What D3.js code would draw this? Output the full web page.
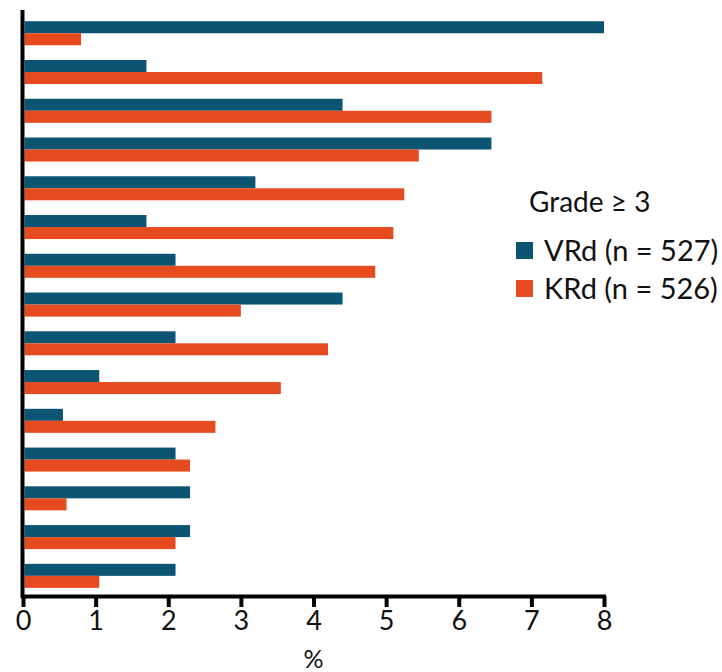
<!DOCTYPE html>
<html>
<head>
<meta charset="utf-8">
<script src="https://cdn.jsdelivr.net/npm/d3@7"></script>
<style>
  html, body { margin: 0; padding: 0; background: #fff; }
  svg { display: block; }
  text { font-family: Lato, "Open Sans", sans-serif; fill: #111; }
</style>
</head>
<body>
<svg id="chart" width="722" height="672"></svg>
<script>
// ---- data ----
const categories = ["c1","c2","c3","c4","c5","c6","c7","c8","c9","c10","c11","c12","c13","c14","c15"];
const seriesNames = ["VRd (n = 527)", "KRd (n = 526)"];
const vrdValues = [8.0, 1.7, 4.4, 6.45, 3.2, 1.7, 2.1, 4.4, 2.1, 1.05, 0.55, 2.1, 2.3, 2.3, 2.1];
const krdValues = [0.8, 7.15, 6.45, 5.45, 5.25, 5.1, 4.85, 3.0, 4.2, 3.55, 2.65, 2.3, 0.6, 2.1, 1.05];
const xTicks = [0, 1, 2, 3, 4, 5, 6, 7, 8];
const legendTitle = "Grade \u2265 3";
const axisTitle = "%";
const colors = ["#0b5573", "#e54b1e"];

// ---- layout ----
const svg = d3.select("#chart");
const x0 = 23, x1 = 604, yTop = 10, yBottom = 596;

const x = d3.scaleLinear().domain([0, 8]).range([x0, x1]);
const y = d3.scaleBand().domain(categories).range([yTop, yBottom])
  .paddingInner(0.38).paddingOuter(0.25).align(0.58);
const sub = d3.scaleBand().domain([0, 1]).range([0, y.bandwidth()]);

const data = categories.map((c, i) => ({ c, vals: [vrdValues[i], krdValues[i]] }));

const g = svg.append("g");
const groups = g.selectAll("g.grp").data(data).join("g")
  .attr("class", "grp")
  .attr("transform", d => `translate(0,${y(d.c)})`);
groups.selectAll("rect").data(d => d.vals).join("rect")
  .attr("x", x(0) + 1.5)
  .attr("y", (v, j) => sub(j))
  .attr("height", sub.bandwidth())
  .attr("width", v => x(v) - x(0) - 1.5)
  .attr("fill", (v, j) => colors[j]);

// x axis
const xAxis = svg.append("g")
  .attr("transform", `translate(0,${yBottom})`)
  .call(d3.axisBottom(x).tickValues(xTicks).tickFormat(d3.format("d")).tickSize(11).tickSizeOuter(0));
xAxis.select(".domain").attr("stroke", "#000").attr("stroke-width", 4)
  .attr("d", `M${x0 - 2},0.5H${x1 + 2}`);
xAxis.selectAll(".tick line").attr("stroke", "#000").attr("stroke-width", 4);
xAxis.selectAll(".tick text")
  .attr("y", 15).attr("dy", "0.71em")
  .style("font-size", "27px").style("font-family", "Lato, sans-serif").attr("fill", "#111");

// y axis line
svg.append("line")
  .attr("x1", x0 - 0.5).attr("x2", x0 - 0.5)
  .attr("y1", yTop).attr("y2", yBottom + 2)
  .attr("stroke", "#000").attr("stroke-width", 4);

// axis title
svg.append("text")
  .attr("x", (x0 + x1) / 2).attr("y", 668)
  .attr("text-anchor", "middle")
  .style("font-size", "25px")
  .text(axisTitle);

// legend
const lg = svg.append("g");
lg.append("text").attr("x", 529).attr("y", 212)
  .style("font-size", "28px").text(legendTitle);
seriesNames.forEach((name, i) => {
  const yy = 242 + i * 38;
  lg.append("rect").attr("x", 516).attr("y", yy).attr("width", 17).attr("height", 17)
    .attr("fill", colors[i]);
  lg.append("text").attr("x", 544).attr("y", yy + 19)
    .style("font-size", "29px").text(name);
});
</script>
</body>
</html>
